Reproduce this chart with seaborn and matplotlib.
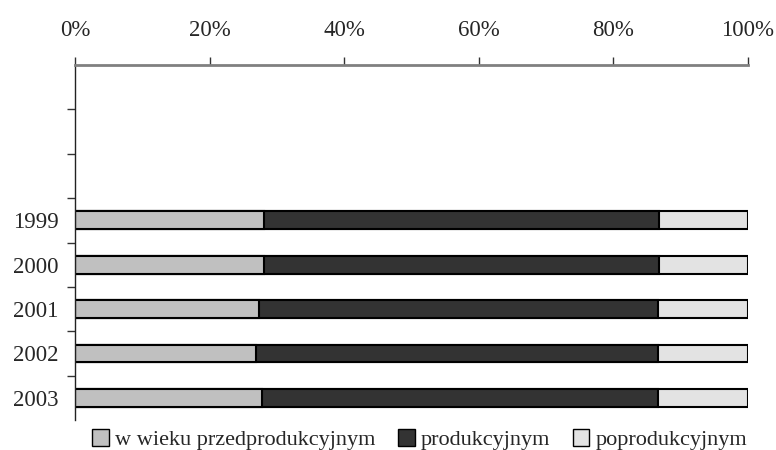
import numpy as np
import pandas as pd
import matplotlib
matplotlib.use("Agg")
import matplotlib.pyplot as plt
import seaborn as sns
from matplotlib.patches import Patch

# dane
years = ["1999", "2000", "2001", "2002", "2003"]
przedprod = [28.1, 28.1, 27.4, 26.9, 27.8]
prod = [58.7, 58.7, 59.2, 59.7, 58.8]
poprod = [13.2, 13.2, 13.4, 13.4, 13.4]
series_names = ["w wieku przedprodukcyjnym", "produkcyjnym", "poprodukcyjnym"]
colors = ["#C0C0C0", "#333333", "#E3E3E3"]

# puste miejsca nad latami
slots = ["", " ", "  "] + years

df = pd.DataFrame({"rok": years, "a": przedprod, "b": prod, "c": poprod})
df["cum1"] = df["a"]
df["cum2"] = df["a"] + df["b"]
df["cum3"] = df["a"] + df["b"] + df["c"]

sns.set_style("white")
plt.rcParams["font.family"] = ["Liberation Serif", "DejaVu Serif"]

fig = plt.figure(figsize=(7.76, 4.5), dpi=100)
ax = fig.add_axes([75 / 776, 1 - 420 / 450, (748 - 75) / 776, (420 - 65) / 450])

for col, c in zip(["cum3", "cum2", "cum1"], colors[::-1]):
    sns.barplot(data=df, x=col, y="rok", order=slots, color=c, width=0.4,
                edgecolor="black", linewidth=1.5, saturation=1, ax=ax, orient="h")

ax.set_xlim(0, 100)
ax.set_ylim(len(slots) - 0.5, -0.5)
ax.set_xlabel("")
ax.set_ylabel("")

# os X na gorze
ax.xaxis.tick_top()
ax.set_xticks([0, 20, 40, 60, 80, 100])
ax.set_xticklabels([f"{v}%" for v in [0, 20, 40, 60, 80, 100]])
ax.tick_params(axis="x", direction="out", length=6, width=1, color="#333333",
               pad=11, labelsize=16.5)

# os Y: etykiety w srodku, kreski na granicach
ax.tick_params(axis="y", which="major", length=0, pad=12, labelsize=16.5)
ax.set_yticks(np.arange(len(slots) - 1) + 0.5, minor=True)
ax.tick_params(axis="y", which="minor", left=True, direction="out", length=6,
               width=1, color="#333333")

for s in ["right", "bottom"]:
    ax.spines[s].set_visible(False)
ax.spines["top"].set_color("#808080")
ax.spines["top"].set_linewidth(2)
ax.spines["left"].set_color("#222222")
ax.spines["left"].set_linewidth(1)

handles = [Patch(facecolor=c, edgecolor="black", linewidth=1) for c in colors]
fig.legend(handles, series_names, loc="lower center", bbox_to_anchor=(0.541, -0.045),
           ncol=3, frameon=False, fontsize=16, handlelength=0.75, handleheight=0.75,
           handletextpad=0.3, columnspacing=1.0)

fig.savefig("out.png", dpi=100)
